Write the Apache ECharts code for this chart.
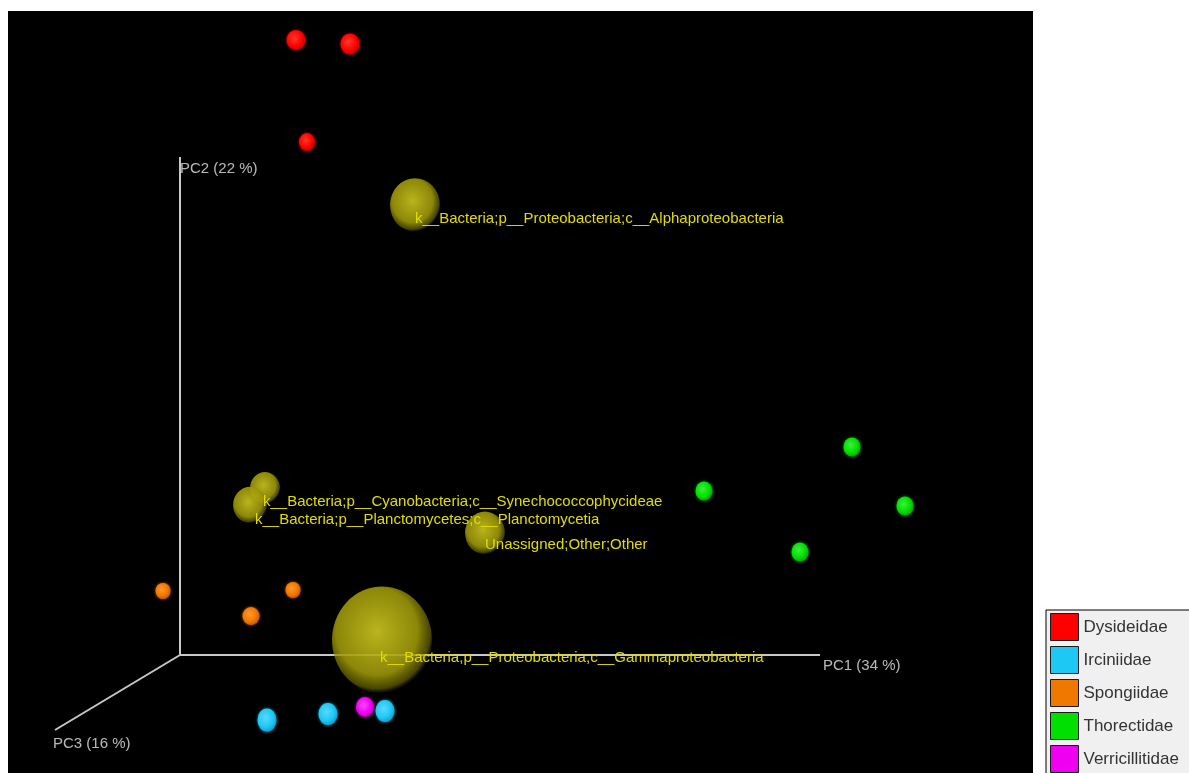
<!DOCTYPE html>
<html>
<head>
<meta charset="utf-8">
<style>
  html, body { margin: 0; padding: 0; background: #ffffff; overflow: hidden; }
  #chart { width: 1189px; height: 800px; }
</style>
<script src="https://cdn.jsdelivr.net/npm/echarts@6/dist/echarts.min.js"></script>
</head>
<body>
<div id="chart"></div>
<script>
// Projected PCoA scores (view coordinates, origin at the PC axes origin)
const families = ['Dysideidae', 'Irciniidae', 'Spongiidae', 'Thorectidae', 'Verricillitidae'];

const dysideidae      = [[116, 615], [170, 611], [127, 513]];
const irciniidae      = [[87, -65], [148, -59], [205, -56]];
const spongiidae      = [[-17, 64], [113, 65], [71, 39]];
const thorectidae     = [[672, 208], [524, 164], [725, 149], [620, 103]];
const verricillitidae = [[185, -52]];

// Taxa (biplot spheres) and their relative weight
const taxaNames = [
  'k__Bacteria;p__Proteobacteria;c__Alphaproteobacteria',
  'k__Bacteria;p__Cyanobacteria;c__Synechococcophycideae',
  'k__Bacteria;p__Planctomycetes;c__Planctomycetia',
  'Unassigned;Other;Other',
  'k__Bacteria;p__Proteobacteria;c__Gammaproteobacteria'
];
const taxaCoords = [[235, 450], [85, 167], [70, 150], [305, 122], [202, 15]];
const taxaWeight = [0.50, 0.30, 0.34, 0.40, 1.00];

// Axes: end points and labels
const axisNames = ['PC1 (34 %)', 'PC2 (22 %)', 'PC3 (16 %)'];
const axisEnds  = [[640, 0], [0, 498], [-125, -75]];

// ---- styling ----
const familyColors = {
  Dysideidae:      { base: '#ff0000', light: '#ff3a2a', dark: '#c00000' },
  Irciniidae:      { base: '#1ec8f5', light: '#5ad8ff', dark: '#0fa0cf' },
  Spongiidae:      { base: '#f07800', light: '#ff9a2a', dark: '#c25c00' },
  Thorectidae:     { base: '#00e000', light: '#3cf03c', dark: '#00a800' },
  Verricillitidae: { base: '#f000f0', light: '#ff4aff', dark: '#b800b8' }
};
const familyPoints = {
  Dysideidae: dysideidae, Irciniidae: irciniidae, Spongiidae: spongiidae,
  Thorectidae: thorectidae, Verricillitidae: verricillitidae
};
// marker diameters (width, height) for each sample, in display order
const markerSizes = {
  Dysideidae:      [[19, 20], [19, 21], [16, 18]],
  Irciniidae:      [[19, 23], [19, 22], [19, 22]],
  Spongiidae:      [[15, 16], [15, 16], [17, 18]],
  Thorectidae:     [[17, 19], [17, 19], [17, 19], [17, 19]],
  Verricillitidae: [[18, 20]]
};
const taxaLabelOffsets = [[0, 14], [-2, 14], [5, 15], [0, 12], [-2, 18]];

const FONT = '"Liberation Sans", Arial, sans-serif';

function sphere(c) {
  return {
    type: 'radial', x: 0.42, y: 0.4, r: 0.62,
    colorStops: [
      { offset: 0, color: c.light },
      { offset: 0.65, color: c.base },
      { offset: 1, color: c.dark }
    ]
  };
}

const taxaSphere = {
  type: 'radial', x: 0.45, y: 0.42, r: 0.58,
  colorStops: [
    { offset: 0, color: 'rgba(196,190,30,0.95)' },
    { offset: 0.7, color: 'rgba(160,154,10,0.88)' },
    { offset: 0.92, color: 'rgba(130,126,0,0.55)' },
    { offset: 1, color: 'rgba(100,100,0,0.0)' }
  ]
};

const series = [];

// PC axes
axisEnds.forEach((end) => {
  series.push({
    type: 'line',
    silent: true,
    symbol: 'none',
    z: 1,
    data: [[0, 0], end],
    lineStyle: { color: '#c8c8c8', width: 2 }
  });
});
series.push({
  type: 'scatter',
  silent: true,
  z: 6,
  symbolSize: 1,
  itemStyle: { color: 'rgba(0,0,0,0)' },
  data: axisEnds.map((e, i) => ({
    value: e,
    label: {
      show: true,
      formatter: axisNames[i],
      position: 'inside',
      align: 'left',
      verticalAlign: 'middle',
      offset: [[3, 11], [0, 12], [-2, 14]][i],
      color: '#e6e6e6',
      fontSize: 15,
      fontFamily: FONT
    }
  }))
});

// taxa spheres with labels
series.push({
  type: 'scatter',
  name: 'taxa',
  silent: true,
  z: 2,
  data: taxaCoords.map((c, i) => ({
    value: c,
    symbolSize: [taxaWeight[i] * 100, taxaWeight[i] * 107],
    label: {
      show: true,
      formatter: taxaNames[i],
      position: 'inside',
      align: 'left',
      verticalAlign: 'middle',
      offset: taxaLabelOffsets[i],
      color: '#e2dc00',
      fontSize: 15,
      fontFamily: FONT
    }
  })),
  itemStyle: { color: taxaSphere, opacity: 1 }
});

// samples, one series per family
families.forEach(f => {
  series.push({
    type: 'scatter',
    name: f,
    z: 4,
    data: familyPoints[f].map((p, i) => ({ value: p, symbolSize: markerSizes[f][i] })),
    itemStyle: {
      color: sphere(familyColors[f]),
      opacity: 1,
      shadowBlur: 3,
      shadowColor: familyColors[f].dark
    }
  });
});

const chart = echarts.init(document.getElementById('chart'), null, { renderer: 'canvas' });
chart.setOption({
  animation: false,
  backgroundColor: '#ffffff',
  grid: {
    left: 8, top: 11, width: 1025, height: 762,
    show: true, backgroundColor: '#000000', borderWidth: 0
  },
  xAxis: { type: 'value', min: -172, max: 853, show: false },
  yAxis: { type: 'value', min: -118, max: 644, show: false },
  legend: {
    orient: 'vertical',
    left: 1046, top: 610,
    padding: [3, 30, 6, 4],
    backgroundColor: '#f0f0f0',
    borderColor: '#000000',
    borderWidth: 1,
    itemWidth: 28,
    itemHeight: 27,
    itemGap: 5,
    icon: 'rect',
    textStyle: { color: '#333333', fontSize: 17, fontFamily: FONT },
    data: families.map(f => ({
      name: f,
      itemStyle: {
        color: familyColors[f].base, opacity: 1,
        borderColor: '#1a1a1a', borderWidth: 1, shadowBlur: 0
      }
    }))
  },
  series: series
});
</script>
</body>
</html>
